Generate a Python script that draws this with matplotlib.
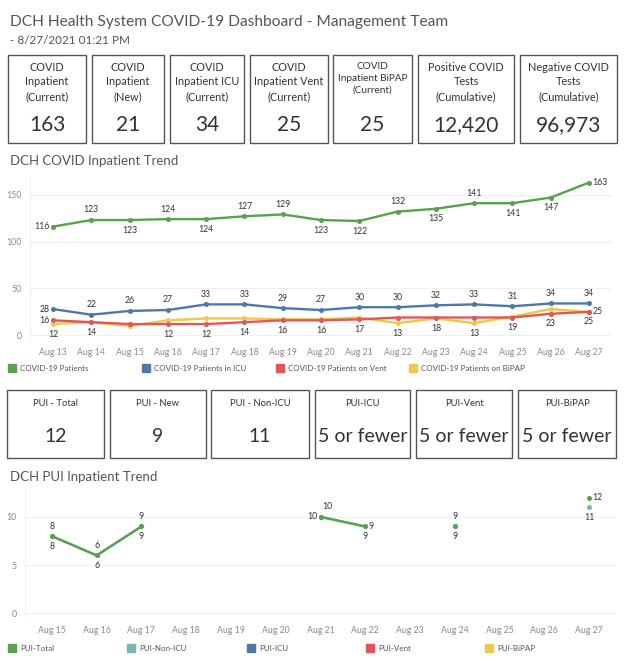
import numpy as np
import matplotlib
matplotlib.use('Agg')
import matplotlib.pyplot as plt
from matplotlib.patches import Rectangle

plt.rcParams['font.family'] = ['Lato', 'DejaVu Sans']

# KPI cards
kpi_titles = ['COVID\nInpatient\n(Current)', 'COVID\nInpatient\n(New)', 'COVID\nInpatient ICU\n(Current)',
              'COVID\nInpatient Vent\n(Current)', 'COVID\nInpatient BiPAP\n(Current)',
              'Positive COVID\nTests\n(Cumulative)', 'Negative COVID\nTests\n(Cumulative)']
kpi_values = ['163', '21', '34', '25', '25', '12,420', '96,973']
pui_titles = ['PUI - Total', 'PUI - New', 'PUI - Non-ICU', 'PUI-ICU', 'PUI-Vent', 'PUI-BiPAP']
pui_values = ['12', '9', '11', '5 or fewer', '5 or fewer', '5 or fewer']

# COVID inpatient trend
covid_days = ['Aug 13', 'Aug 14', 'Aug 15', 'Aug 16', 'Aug 17', 'Aug 18', 'Aug 19', 'Aug 20',
              'Aug 21', 'Aug 22', 'Aug 23', 'Aug 24', 'Aug 25', 'Aug 26', 'Aug 27']
covid_patients = [116, 123, 123, 124, 124, 127, 129, 123, 122, 132, 135, 141, 141, 147, 163]
covid_icu = [28, 22, 26, 27, 33, 33, 29, 27, 30, 30, 32, 33, 31, 34, 34]
covid_vent = [16, 14, 12, 12, 12, 14, 16, 16, 17, 19, 19, 19, 19, 23, 25]
covid_bipap = [12, 14, 10, 16, 18, 18, 17, 17, 19, 13, 18, 13, 20, 28, 25]
covid_names = ['COVID-19 Patients', 'COVID-19 Patients in ICU', 'COVID-19 Patients on Vent',
               'COVID-19 Patients on BiPAP']

# PUI inpatient trend (nan = no record)
pui_days = ['Aug 15', 'Aug 16', 'Aug 17', 'Aug 18', 'Aug 19', 'Aug 20', 'Aug 21',
            'Aug 22', 'Aug 23', 'Aug 24', 'Aug 25', 'Aug 26', 'Aug 27']
pui_total = [8, 6, 9, np.nan, np.nan, np.nan, 10, 9, np.nan, 9, np.nan, np.nan, 12]
pui_nonicu = [8, 6, 9, np.nan, np.nan, np.nan, 10, 9, np.nan, 9, np.nan, np.nan, 11]
pui_names = ['PUI-Total', 'PUI-Non-ICU', 'PUI-ICU', 'PUI-Vent', 'PUI-BiPAP']

GREEN, BLUE, RED, YELLOW, TEAL = '#59A14F', '#4E79A7', '#E15759', '#EDC948', '#76B7B2'
TXT = '#333333'
W, H = 624, 663


def px(x0, y0, x1, y1):
    return [x0 / W, 1 - y1 / H, (x1 - x0) / W, (y1 - y0) / H]


# label placement per point: a=above, b=below, l=left, r=right, None=no label
lab_green = ['l', 'a', 'b', 'a', 'b', 'a', 'a', 'b', 'b', 'a', 'b', 'a', 'b', 'b', 'r']
lab_blue = ['l'] + ['a'] * 14
lab_red = ['l', 'b', None, 'b', 'b', 'b', 'b', 'b', 'b', None, None, None, 'b', 'b', 'r']
lab_yellow = ['b', None, None, None, None, None, None, None, None, 'b', 'b', 'b', None, None, 'b']
OFF = {'a': (0, 4, 'center', 'bottom'), 'b': (0, -4, 'center', 'top'),
       'l': (-2.5, 0, 'right', 'center'), 'r': (2.5, 0, 'left', 'center')}


def label(ax, xs, ys, places):
    for x, y, p in zip(xs, ys, places):
        if p is None or np.isnan(y):
            continue
        dx, dy, ha, va = OFF[p]
        ax.annotate(str(int(y)), (x, y), xytext=(dx, dy),
                    textcoords='offset points', ha=ha, va=va, fontsize=6.3, color=TXT)


def style(ax):
    for s in ['top', 'right', 'bottom']:
        ax.spines[s].set_visible(False)
    ax.spines['left'].set_color('#f0f0f0')
    ax.tick_params(length=0, labelsize=6.3, labelcolor='#8a8a8a', pad=6)
    ax.grid(axis='y', color='#f0f0f0', lw=0.8)
    ax.set_axisbelow(True)


fig = plt.figure(figsize=(W / 100, H / 100), dpi=100)
bg = fig.add_axes([0, 0, 1, 1])
bg.set_xlim(0, W)
bg.set_ylim(H, 0)
bg.axis('off')

bg.text(10, 22, 'DCH Health System COVID-19 Dashboard - Management Team', fontsize=11.2,
        color='#555555', va='center')
bg.text(10, 40, '- 8/27/2021 01:21 PM', fontsize=8.5, color='#555555', va='center')

kpi_x = [(8, 86), (92, 164), (170, 244), (250, 328), (333, 412), (418, 514), (520, 617)]
for (x0, x1), t, v in zip(kpi_x, kpi_titles, kpi_values):
    bg.add_patch(Rectangle((x0, 55), x1 - x0, 88, fill=False, ec='#555555', lw=1))
    fs = 7.2 if 'BiPAP' in t else 7.8
    bg.text((x0 + x1) / 2, 62, t, ha='center', va='top', fontsize=fs, color=TXT, linespacing=1.38)
    bg.text((x0 + x1) / 2, 125, v, ha='center', va='center', fontsize=15, color=TXT)

pui_x = [(7, 104), (110, 206), (211, 309), (315, 410), (416, 512), (518, 616)]
for (x0, x1), t, v in zip(pui_x, pui_titles, pui_values):
    bg.add_patch(Rectangle((x0, 390), x1 - x0, 68, fill=False, ec='#555555', lw=1))
    bg.text((x0 + x1) / 2, 403, t, ha='center', va='center', fontsize=6.8, color=TXT)
    bg.text((x0 + x1) / 2, 437, v, ha='center', va='center', fontsize=14, color=TXT)

bg.text(10, 161, 'DCH COVID Inpatient Trend', fontsize=9.5, color='#555555', va='center')
bg.text(10, 477, 'DCH PUI Inpatient Trend', fontsize=9.5, color='#555555', va='center')

# legends
for x, c, n in zip([8, 142, 276, 409], [GREEN, BLUE, RED, YELLOW], covid_names):
    bg.add_patch(Rectangle((x, 364), 8, 8, color=c))
    bg.text(x + 12, 368.5, n, fontsize=5.8, color='#555555', va='center')
for x, c, n in zip([8, 127, 247, 366, 485], [GREEN, TEAL, BLUE, RED, YELLOW], pui_names):
    bg.add_patch(Rectangle((x, 644), 8, 8, color=c))
    bg.text(x + 12, 648.5, n, fontsize=5.8, color='#555555', va='center')

# COVID trend chart
ax1 = fig.add_axes(px(30, 176, 612, 340))
ax1.patch.set_alpha(0)
x = np.arange(len(covid_days))
for ys, c in zip([covid_bipap, covid_vent, covid_icu, covid_patients], [YELLOW, RED, BLUE, GREEN]):
    ax1.plot(x, ys, color=c, lw=1.7, marker='o', ms=2.6)
label(ax1, x, covid_patients, lab_green)
label(ax1, x, covid_icu, lab_blue)
label(ax1, x, covid_vent, lab_red)
label(ax1, x, covid_bipap, lab_yellow)
ax1.set_xlim(-0.6, len(x) - 0.4)
ax1.set_ylim(-5, 170)
ax1.set_yticks([0, 50, 100, 150])
ax1.set_xticks(x)
ax1.set_xticklabels(covid_days)
style(ax1)

# PUI trend chart
ax2 = fig.add_axes(px(25, 487, 616, 618))
ax2.patch.set_alpha(0)
x2 = np.arange(len(pui_days))
ax2.plot(x2, pui_nonicu, color=TEAL, lw=1.7, marker='o', ms=2.6)
ax2.plot(x2, pui_total, color=GREEN, lw=1.7, marker='o', ms=2.6)
lab_tot = ['a', 'a', 'a', None, None, None, 'l', 'r', None, 'a', None, None, 'r']
lab_non = ['b', 'b', 'b', None, None, None, None, 'b', None, 'b', None, None, 'b']
label(ax2, x2, pui_total, lab_tot)
label(ax2, x2, pui_nonicu, lab_non)
ax2.annotate('10', (6, 10), xytext=(5, 4), textcoords='offset points', ha='center', va='bottom',
             fontsize=6.3, color=TXT)
ax2.set_xlim(-0.6, len(x2) - 0.4)
ax2.set_ylim(-0.5, 13.1)
ax2.set_yticks([0, 5, 10])
ax2.set_xticks(x2)
ax2.set_xticklabels(pui_days)
style(ax2)

fig.savefig('out.png', dpi=100)
